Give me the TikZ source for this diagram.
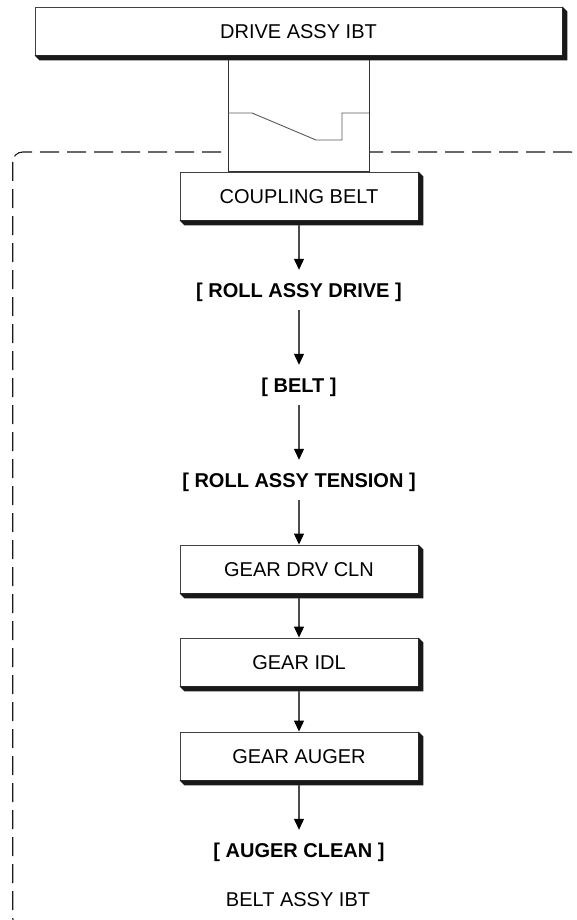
\documentclass[tikz,border=0pt]{standalone}
\usepackage{fontspec}
\setmainfont{Liberation Sans}
\usetikzlibrary{arrows.meta}
\tikzset{
  partbox/.style={draw=black!75, line width=0.9pt, fill=white, minimum height=48pt, inner sep=0pt,
    text height=14.3pt, text depth=0pt, font=\fontsize{20}{24}\selectfont},
  partname/.style={minimum height=40pt, inner sep=0pt, text height=14.3pt, text depth=0pt,
    font=\fontsize{20}{24}\selectfont\bfseries},
  flow/.style={draw=black!70, line width=1.1pt, -{Triangle[length=11pt,width=10pt,color=black]}},
  frame/.style={draw=black!90, line width=1.1pt, dash pattern=on 19pt off 8pt, rounded corners=10pt},
}
\begin{document}
\begin{tikzpicture}[x=1pt,y=-1pt]
	\useasboundingbox (0,0) rectangle (577,920);
	\clip (0,0) rectangle (577,920);

	\draw[frame] (12.7,152) rectangle (581,928);

	\node[partbox, minimum width=527pt] (drive) at (298.5,31) {DRIVE ASSY IBT};
	\node[partbox, minimum width=238pt] (cplbelt) at (299,196) {COUPLING BELT};

	\draw[black!80, line width=0.9pt, fill=white] ([xshift=-70.5pt]drive.south) rectangle ([xshift=70.5pt]cplbelt.north);
	\draw[black!65, line width=0.9pt] (228,113) -- (252,113) -- (316,140) -- (342,140) -- (342,113) -- (369,113);

	\node[partname] (rolldrive) at (299,290) {[ ROLL ASSY DRIVE ]};
	\node[partname] (belt) at (299,385) {[ BELT ]};
	\node[partname] (rolltension) at (299,480) {[ ROLL ASSY TENSION ]};
	\node[partbox, minimum width=238pt] (geardrv) at (299,569) {GEAR DRV CLN};
	\node[partbox, minimum width=238pt] (gearidl) at (299,662) {GEAR IDL};
	\node[partbox, minimum width=238pt] (gearauger) at (299,756) {GEAR AUGER};
	\node[partname] (augerclean) at (299,850) {[ AUGER CLEAN ]};
	\node[font=\fontsize{20}{24}\selectfont, inner sep=0pt] (assyname) at (298,900) {BELT ASSY IBT};

	\foreach \n in {drive,cplbelt,geardrv,gearidl,gearauger}
		\fill[black!90] (\n.south west) -- ++(5,5) -| ([shift={(5pt,-5pt)}]\n.north east) -- (\n.north east) -- (\n.south east) -- cycle;

	\draw[flow] ([yshift=-5pt]cplbelt.south) -- (rolldrive.north);
	\draw[flow] (rolldrive.south) -- (belt.north);
	\draw[flow] (belt.south) -- (rolltension.north);
	\draw[flow] (rolltension.south) -- (geardrv.north);
	\draw[flow] ([yshift=-5pt]geardrv.south) -- (gearidl.north);
	\draw[flow] ([yshift=-5pt]gearidl.south) -- (gearauger.north);
	\draw[flow] ([yshift=-5pt]gearauger.south) -- (augerclean.north);
\end{tikzpicture}
\end{document}
